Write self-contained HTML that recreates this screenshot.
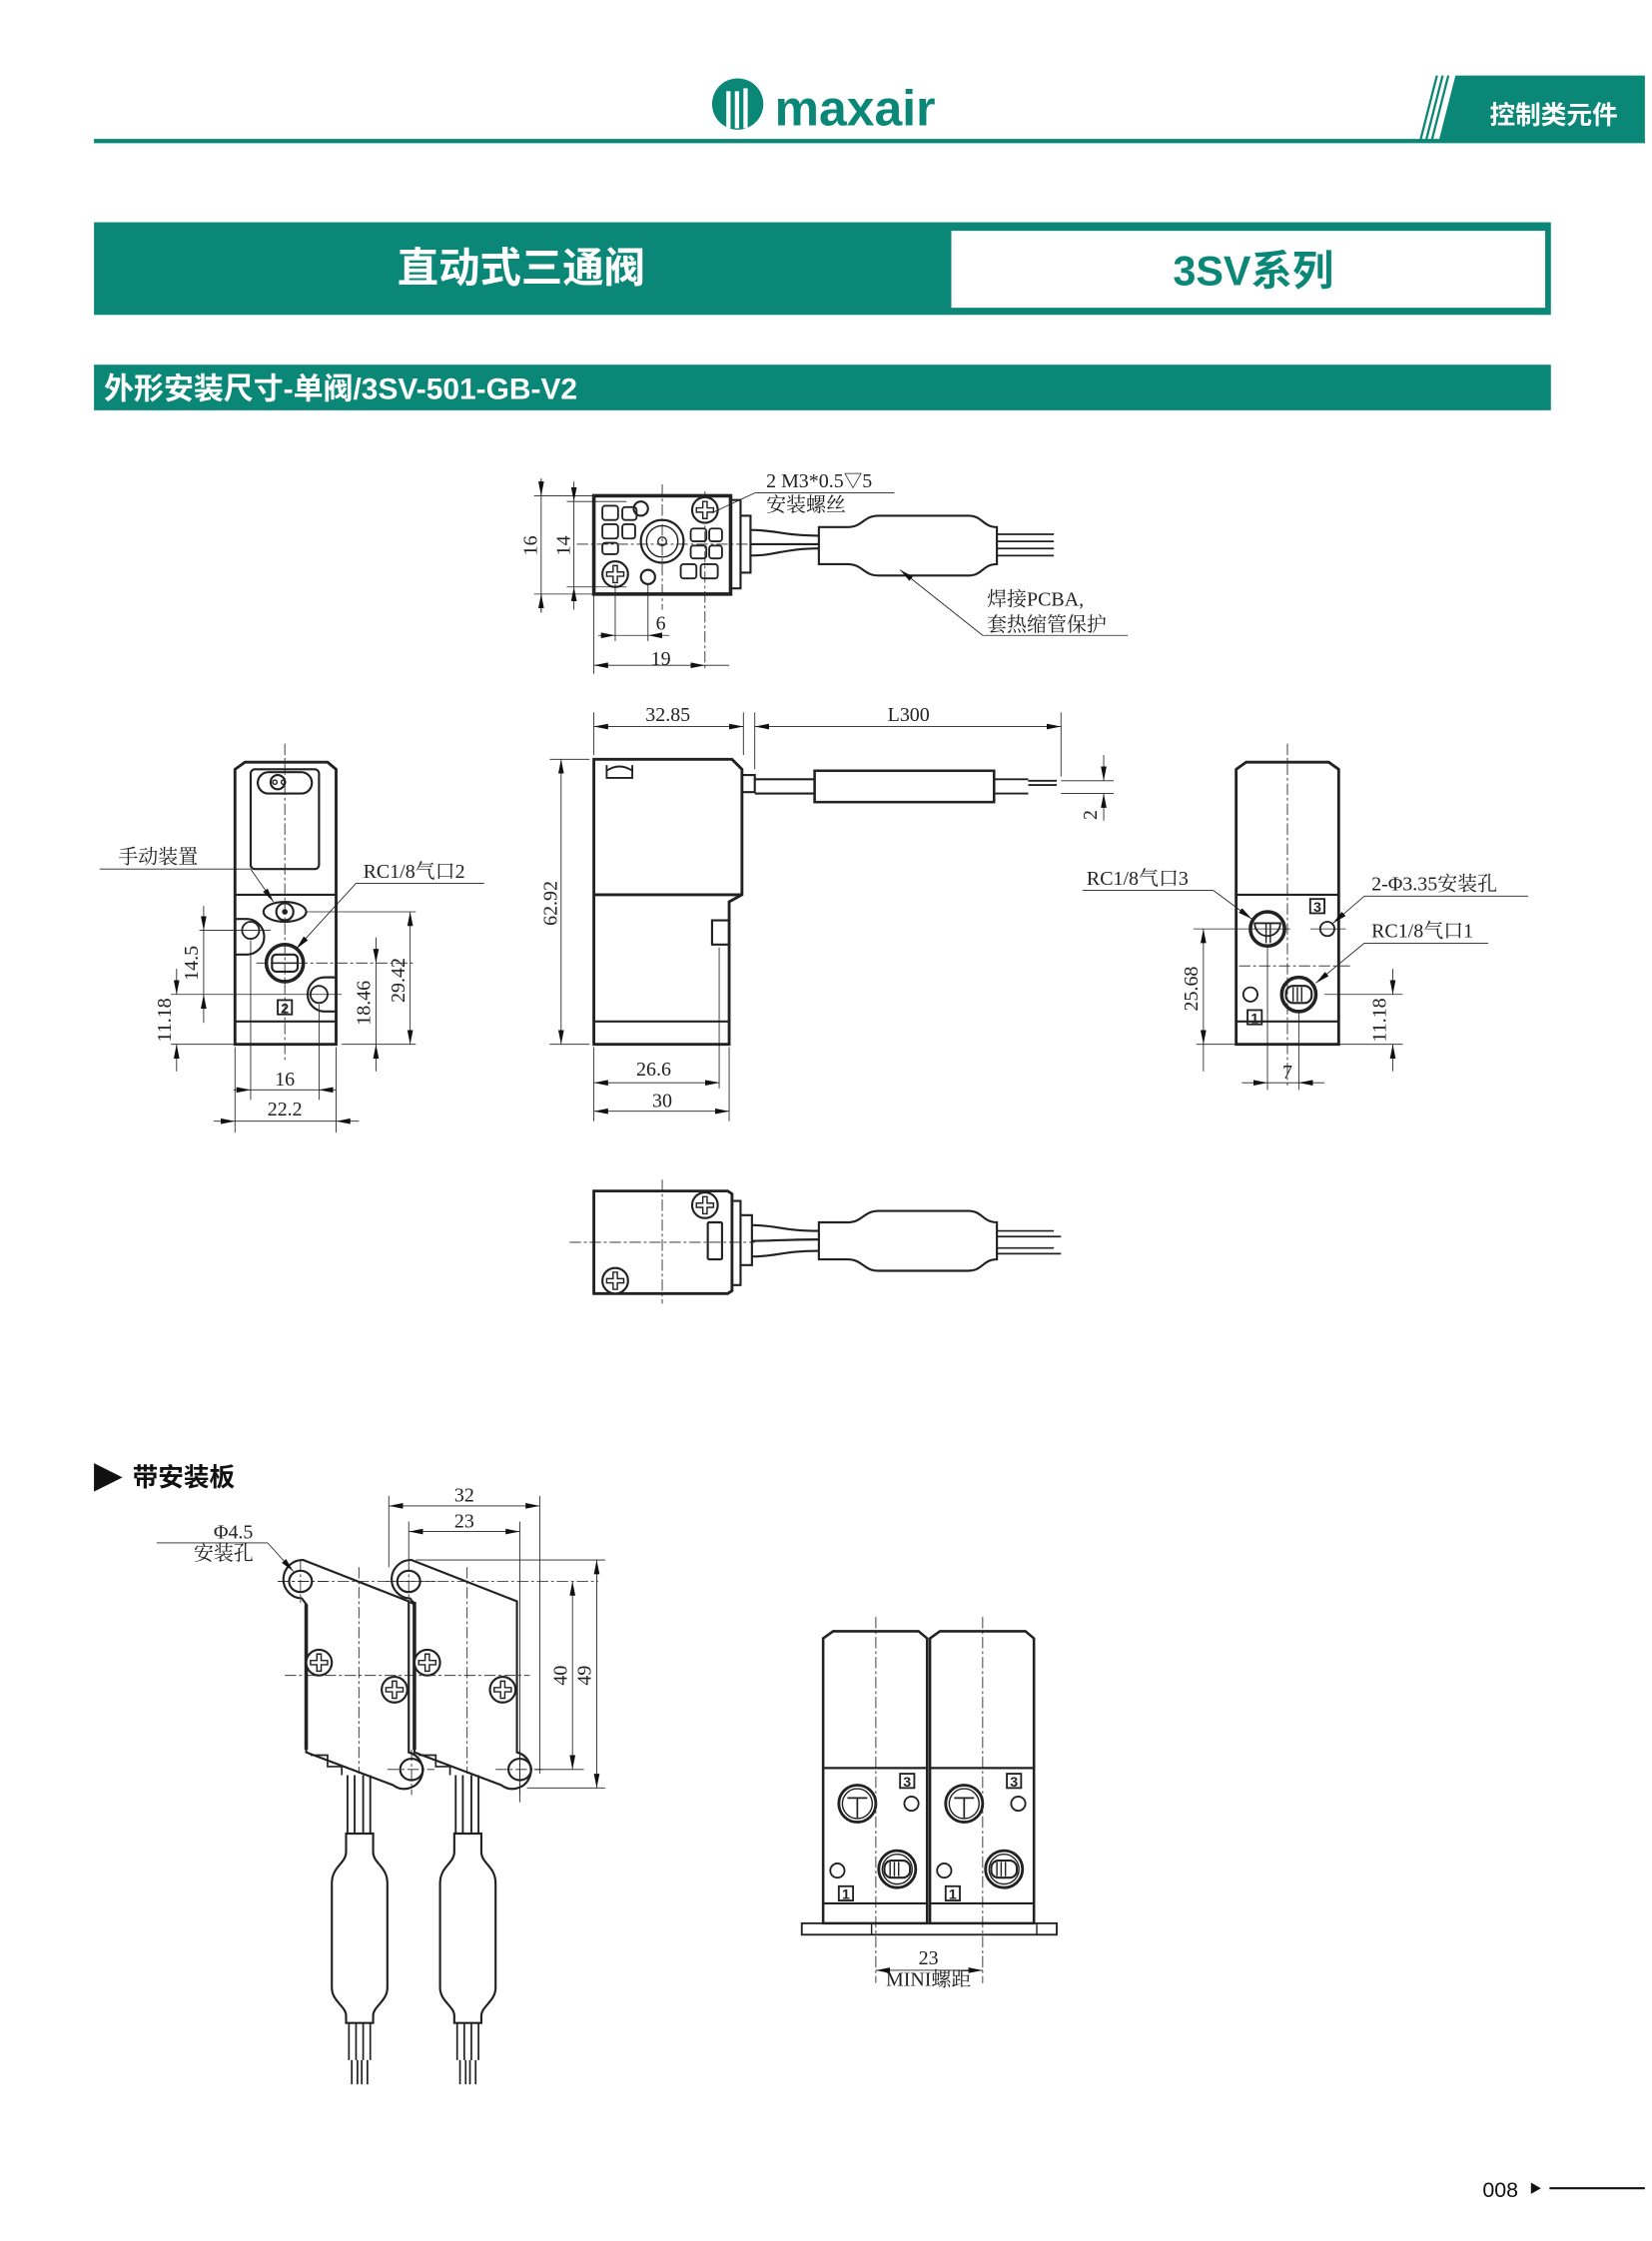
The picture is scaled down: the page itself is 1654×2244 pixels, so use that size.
<!DOCTYPE html>
<html><head><meta charset="utf-8"><style>
html,body{margin:0;padding:0;background:#fff}
svg{display:block}
.cn{font-family:"Liberation Sans","Noto Sans CJK SC",sans-serif}
.d{font-family:"Liberation Serif","Noto Serif CJK SC",serif;font-size:14px;fill:#222}
</style></head><body>
<svg width="1654" height="2244" viewBox="0 0 1160 1573" preserveAspectRatio="none" xmlns="http://www.w3.org/2000/svg">
<defs>
<marker id="a" viewBox="0 0 10 4" refX="10" refY="2" markerWidth="10" markerHeight="4" markerUnits="userSpaceOnUse" orient="auto-start-reverse"><path d="M0,0L10,2L0,4z" fill="#111"/></marker>
<g id="scr"><circle r="9" fill="#fff" stroke="#222" stroke-width="1.5"/><path d="M-1.5,-6h3v4.5h4.5v3h-4.5v4.5h-3v-4.5h-4.5v-3h4.5z" fill="none" stroke="#222" stroke-width="1"/></g>
</defs>
<!-- header -->
<rect x="66" y="97.5" width="1089" height="3" fill="#0b8778"/>
<polygon points="1022,53 1155,53 1155,100 1010,100" fill="#0b8778"/>
<line x1="1017" y1="53" x2="1005" y2="100" stroke="#0b8778" stroke-width="1.6"/>
<line x1="1013" y1="53" x2="1001" y2="100" stroke="#0b8778" stroke-width="1.6"/>
<line x1="1009" y1="53" x2="997" y2="100" stroke="#0b8778" stroke-width="1.6"/>
<text x="1046" y="87" class="cn" font-size="18" font-weight="bold" fill="#fff">控制类元件</text>
<circle cx="518" cy="73" r="18" fill="#0b8778"/>
<rect x="510" y="64" width="3" height="26" fill="#fff"/><rect x="516" y="64" width="3" height="26" fill="#fff"/><rect x="522" y="62" width="3" height="28" fill="#fff"/>
<text x="544" y="88" font-family="Liberation Sans,sans-serif" font-size="35" font-weight="bold" fill="#0b8778">maxair</text>
<!-- title -->
<rect x="66" y="156" width="1023" height="65" fill="#0b8778"/>
<rect x="668" y="162" width="417" height="54" fill="#fff"/>
<text x="366" y="198" text-anchor="middle" class="cn" font-size="29" font-weight="bold" fill="#fff">直动式三通阀</text>
<text x="880" y="200" text-anchor="middle" class="cn" font-size="29" font-weight="bold" fill="#0b8778">3SV系列</text>
<rect x="66" y="256" width="1023" height="32" fill="#0b8778"/>
<text x="73" y="280" class="cn" font-size="21" font-weight="bold" fill="#fff">外形安装尺寸-单阀/3SV-501-GB-V2</text>

<g fill="none" stroke="#222">
<!-- TOP VIEW -->
<rect x="417" y="348" width="96" height="69" stroke-width="2.5"/>
<path d="M513,351H520V413H513M520,362H527V402H520" stroke-width="1.5"/>
<g stroke-width="0.6" stroke-dasharray="8 2 2 2"><line x1="405" y1="382" x2="532" y2="382"/><line x1="465" y1="340" x2="465" y2="428"/><line x1="495" y1="345" x2="495" y2="470"/></g>
<circle cx="465" cy="380" r="15" stroke-width="1.5"/><circle cx="465" cy="380" r="11" stroke-width="1"/><circle cx="465" cy="380" r="3"/>
<circle cx="450" cy="357" r="5" stroke-width="1.5"/><circle cx="455" cy="405" r="5" stroke-width="1.5"/>
<g stroke-width="1.3"><rect x="423" y="355" width="11" height="10" rx="2"/><rect x="437" y="356" width="10" height="9" rx="2"/><rect x="423" y="368" width="11" height="10" rx="2"/><rect x="437" y="368" width="9" height="10" rx="2"/><rect x="423" y="381" width="11" height="8" rx="2"/><rect x="485" y="371" width="11" height="9" rx="2"/><rect x="498" y="371" width="9" height="9" rx="2"/><rect x="485" y="383" width="11" height="9" rx="2"/><rect x="498" y="383" width="9" height="9" rx="2"/><rect x="478" y="396" width="11" height="10" rx="2"/><rect x="492" y="396" width="12" height="10" rx="2"/></g>
<use href="#scr" x="495" y="358"/><use href="#scr" x="432" y="403"/>
<path d="M527,372 C545,372 550,376 575,376 M527,390 C545,390 550,385 575,385 M527,382 H575" stroke-width="1.5"/>
<path d="M575,370H595C606,370 606,362 617,362H680C690,362 690,370 700,370V396C690,396 690,404 680,404H617C606,404 606,396 595,396H575Z" stroke-width="1.5"/>
<path d="M700,375H740M700,380H740M700,385H740M700,390H740" stroke-width="1.2"/>
<g stroke-width="0.6">
<line x1="375" y1="348" x2="417" y2="348"/><line x1="375" y1="417" x2="417" y2="417"/><line x1="380" y1="336" x2="380" y2="430"/>
<line x1="380" y1="336" x2="380" y2="348" marker-end="url(#a)"/><line x1="380" y1="430" x2="380" y2="417" marker-end="url(#a)"/>
<line x1="398" y1="352" x2="440" y2="352"/><line x1="398" y1="412" x2="440" y2="412"/>
<line x1="403" y1="338" x2="403" y2="352" marker-end="url(#a)"/><line x1="403" y1="428" x2="403" y2="412" marker-end="url(#a)"/>
<line x1="403" y1="352" x2="403" y2="412"/>
<line x1="432" y1="410" x2="432" y2="450"/><line x1="455" y1="410" x2="455" y2="450"/><line x1="417" y1="417" x2="417" y2="473"/>
<line x1="432" y1="446" x2="455" y2="446" /><line x1="420" y1="446" x2="432" y2="446" marker-end="url(#a)"/><line x1="470" y1="446" x2="455" y2="446" marker-end="url(#a)"/>
<line x1="417" y1="467" x2="495" y2="467" marker-start="url(#a)" marker-end="url(#a)"/><line x1="495" y1="467" x2="512" y2="467"/>
<line x1="530" y1="346" x2="628" y2="346"/><line x1="530" y1="346" x2="500" y2="360"/>
<line x1="690" y1="446" x2="792" y2="446"/><line x1="690" y1="446" x2="632" y2="400" marker-end="url(#a)"/>
</g>
</g>
<text class="d" x="538" y="342">2 M3*0.5<tspan font-size="13">▽</tspan>5</text>
<text class="d" x="538" y="359">安装螺丝</text>
<text class="d" x="693" y="425">焊接PCBA,</text>
<text class="d" x="693" y="443">套热缩管保护</text>
<text class="d" transform="translate(377,383) rotate(-90)" text-anchor="middle">16</text>
<text class="d" transform="translate(400,383) rotate(-90)" text-anchor="middle">14</text>
<text class="d" x="464" y="442" text-anchor="middle">6</text>
<text class="d" x="464" y="467" text-anchor="middle">19</text>

<g fill="none" stroke="#222">
<!-- FRONT VIEW -->
<path d="M417,533H514L521,540V628L512,633V733H417Z" stroke-width="2"/>
<line x1="417" y1="628" x2="521" y2="628" stroke-width="2"/>
<line x1="417" y1="717" x2="512" y2="717" stroke-width="1.5"/>
<rect x="500" y="646" width="12" height="17" stroke-width="1.5"/>
<path d="M521,544H530V556H521" stroke-width="1.5"/>
<path d="M426,537V546H444V537M426,541C432,537 438,537 444,541" stroke-width="1.3"/>
<line x1="530" y1="547" x2="572" y2="547" stroke-width="1.5"/><line x1="530" y1="557" x2="572" y2="557" stroke-width="1.5"/>
<rect x="572" y="541" width="126" height="22" stroke-width="1.8"/>
<path d="M698,547H722M698,557H722M722,548H742M722,551H742" stroke-width="1.3"/>
<g stroke-width="0.6">
<line x1="417" y1="500" x2="417" y2="530"/><line x1="522" y1="500" x2="522" y2="530"/><line x1="530" y1="500" x2="530" y2="540"/><line x1="745" y1="500" x2="745" y2="545"/>
<line x1="417" y1="510" x2="522" y2="510" marker-start="url(#a)" marker-end="url(#a)"/>
<line x1="530" y1="510" x2="745" y2="510" marker-start="url(#a)" marker-end="url(#a)"/>
<line x1="386" y1="533" x2="414" y2="533"/><line x1="386" y1="733" x2="414" y2="733"/>
<line x1="394" y1="533" x2="394" y2="733" marker-start="url(#a)" marker-end="url(#a)"/>
<line x1="417" y1="735" x2="417" y2="787"/><line x1="512" y1="735" x2="512" y2="787"/><line x1="505" y1="665" x2="505" y2="764"/>
<line x1="417" y1="760" x2="505" y2="760" marker-start="url(#a)" marker-end="url(#a)"/>
<line x1="417" y1="780" x2="512" y2="780" marker-start="url(#a)" marker-end="url(#a)"/>
<line x1="745" y1="548" x2="782" y2="548"/><line x1="745" y1="557" x2="782" y2="557"/>
<line x1="775" y1="530" x2="775" y2="548" marker-end="url(#a)"/><line x1="775" y1="576" x2="775" y2="557" marker-end="url(#a)"/>
</g>
</g>
<text class="d" x="469" y="506" text-anchor="middle">32.85</text>
<text class="d" x="638" y="506" text-anchor="middle">L300</text>
<text class="d" transform="translate(391,634) rotate(-90)" text-anchor="middle">62.92</text>
<text class="d" x="459" y="755" text-anchor="middle">26.6</text>
<text class="d" x="465" y="777" text-anchor="middle">30</text>
<text class="d" transform="translate(770,572) rotate(-90)" text-anchor="middle">2</text>

<g fill="none" stroke="#222">
<!-- LEFT SIDE VIEW -->
<path d="M165,540L172,535H230L236,540V733H165Z" stroke-width="2"/>
<line x1="165" y1="628" x2="236" y2="628" stroke-width="1.5"/>
<line x1="165" y1="717" x2="236" y2="717" stroke-width="1.5"/>
<rect x="176" y="540" width="48" height="70" rx="3" stroke-width="1.5"/>
<rect x="181" y="542" width="38" height="15" rx="7.5" stroke-width="1.5"/>
<circle cx="195" cy="549" r="5" stroke-width="1.5"/><circle cx="199" cy="549" r="1.5"/><circle cx="193" cy="549" r="1.5"/>
<line x1="200" y1="522" x2="200" y2="745" stroke-width="0.6" stroke-dasharray="8 2 2 2"/>
<ellipse cx="200" cy="640" rx="15" ry="7" stroke-width="1.5"/><circle cx="200" cy="640" r="6" stroke-width="1.5"/><circle cx="200" cy="640" r="1.5" fill="#222"/>
<path d="M165,645H173A10,10 0 0 1 173,670H165" stroke-width="1.5"/><circle cx="176" cy="653" r="6" stroke-width="1.3"/>
<path d="M236,686H228A10,10 0 0 0 228,710H236" stroke-width="1.5"/><circle cx="224" cy="698" r="6" stroke-width="1.3"/>
<circle cx="200" cy="676" r="13" stroke-width="2.5"/><rect x="191" y="670" width="18" height="12" rx="3" stroke-width="1.5"/><line x1="191" y1="676" x2="209" y2="676" stroke-width="1"/>
<rect x="195" y="702" width="10" height="10" stroke-width="1.3"/>
<g stroke-width="0.6">
<line x1="180" y1="676" x2="290" y2="676" stroke-dasharray="8 2 2 2"/><line x1="215" y1="640" x2="292" y2="640"/><line x1="140" y1="653" x2="190" y2="653"/><line x1="120" y1="698" x2="240" y2="698"/>
<line x1="120" y1="733" x2="165" y2="733"/><line x1="240" y1="733" x2="292" y2="733"/>
<line x1="143" y1="636" x2="143" y2="653" marker-end="url(#a)"/><line x1="143" y1="718" x2="143" y2="698" marker-end="url(#a)"/><line x1="143" y1="653" x2="143" y2="698"/>
<line x1="124" y1="680" x2="124" y2="698" marker-end="url(#a)"/><line x1="124" y1="752" x2="124" y2="733" marker-end="url(#a)"/>
<line x1="264" y1="658" x2="264" y2="676" marker-end="url(#a)"/><line x1="264" y1="752" x2="264" y2="733" marker-end="url(#a)"/><line x1="264" y1="676" x2="264" y2="733"/>
<line x1="288" y1="640" x2="288" y2="733" marker-start="url(#a)" marker-end="url(#a)"/>
<line x1="165" y1="735" x2="165" y2="795"/><line x1="236" y1="735" x2="236" y2="795"/><line x1="176" y1="660" x2="176" y2="772"/><line x1="224" y1="705" x2="224" y2="772"/>
<line x1="164" y1="765" x2="176" y2="765" marker-end="url(#a)"/><line x1="236" y1="765" x2="224" y2="765" marker-end="url(#a)"/><line x1="176" y1="765" x2="224" y2="765"/>
<line x1="150" y1="787" x2="165" y2="787" marker-end="url(#a)"/><line x1="252" y1="787" x2="236" y2="787" marker-end="url(#a)"/><line x1="165" y1="787" x2="236" y2="787"/>
<line x1="70" y1="610" x2="176" y2="610"/><line x1="176" y1="610" x2="192" y2="633" marker-end="url(#a)"/>
<line x1="250" y1="620" x2="340" y2="620"/><line x1="250" y1="620" x2="208" y2="666" marker-end="url(#a)"/>
</g>
</g>
<text x="200" y="711" text-anchor="middle" font-family="Liberation Sans,sans-serif" font-size="10" font-weight="bold" fill="#222">2</text>
<text class="d" x="83" y="606">手动装置</text>
<text class="d" x="255" y="616">RC1/8气口2</text>
<text class="d" transform="translate(139,676) rotate(-90)" text-anchor="middle">14.5</text>
<text class="d" transform="translate(120,716) rotate(-90)" text-anchor="middle">11.18</text>
<text class="d" transform="translate(260,704) rotate(-90)" text-anchor="middle">18.46</text>
<text class="d" transform="translate(284,688) rotate(-90)" text-anchor="middle">29.42</text>
<text class="d" x="200" y="762" text-anchor="middle">16</text>
<text class="d" x="200" y="783" text-anchor="middle">22.2</text>

<g fill="none" stroke="#222">
<!-- RIGHT SIDE VIEW -->
<path d="M868,540L875,535H933L940,540V733H868Z" stroke-width="2"/>
<line x1="868" y1="628" x2="940" y2="628" stroke-width="1.5"/>
<line x1="868" y1="717" x2="940" y2="717" stroke-width="1.5"/>
<line x1="904" y1="522" x2="904" y2="762" stroke-width="0.6" stroke-dasharray="8 2 2 2"/>
<circle cx="890" cy="652" r="12" stroke-width="2.5"/><path d="M881,648H899A9,9 0 0 1 881,648Z" stroke-width="1.3"/><line x1="889" y1="648" x2="889" y2="662" stroke-width="1"/><line x1="892" y1="648" x2="892" y2="662" stroke-width="1"/>
<rect x="920" y="631" width="10" height="10" stroke-width="1.3"/>
<circle cx="932" cy="652" r="5" stroke-width="1.3"/>
<circle cx="912" cy="698" r="12" stroke-width="2.5"/><rect x="903" y="692" width="18" height="12" rx="5" stroke-width="1.5"/><path d="M908,693V703M911,693V703M914,693V703" stroke-width="1"/>
<circle cx="878" cy="698" r="5" stroke-width="1.3"/>
<rect x="876" y="709" width="10" height="10" stroke-width="1.3"/>
<g stroke-width="0.6">
<line x1="838" y1="652" x2="906" y2="652"/><line x1="920" y1="652" x2="945" y2="652"/><line x1="870" y1="678" x2="950" y2="678" stroke-dasharray="8 2 2 2"/>
<line x1="840" y1="733" x2="868" y2="733"/><line x1="940" y1="733" x2="985" y2="733"/><line x1="930" y1="698" x2="985" y2="698"/>
<line x1="845" y1="652" x2="845" y2="733" marker-start="url(#a)" marker-end="url(#a)"/><line x1="845" y1="733" x2="845" y2="752"/>
<line x1="978" y1="680" x2="978" y2="698" marker-end="url(#a)"/><line x1="978" y1="752" x2="978" y2="733" marker-end="url(#a)"/>
<line x1="890" y1="665" x2="890" y2="765"/><line x1="912" y1="711" x2="912" y2="765"/>
<line x1="872" y1="760" x2="890" y2="760" marker-end="url(#a)"/><line x1="930" y1="760" x2="912" y2="760" marker-end="url(#a)"/><line x1="890" y1="760" x2="912" y2="760"/>
<line x1="760" y1="625" x2="852" y2="625"/><line x1="852" y1="625" x2="879" y2="645" marker-end="url(#a)"/>
<line x1="958" y1="629" x2="1073" y2="629"/><line x1="958" y1="629" x2="936" y2="648" marker-end="url(#a)"/>
<line x1="958" y1="662" x2="1045" y2="662"/><line x1="958" y1="662" x2="924" y2="690" marker-end="url(#a)"/>
</g>
</g>
<text x="925" y="640" text-anchor="middle" font-family="Liberation Sans,sans-serif" font-size="10" font-weight="bold" fill="#222">3</text>
<text x="881" y="718" text-anchor="middle" font-family="Liberation Sans,sans-serif" font-size="10" font-weight="bold" fill="#222">1</text>
<text class="d" x="763" y="621">RC1/8气口3</text>
<text class="d" x="963" y="625">2-Φ3.35安装孔</text>
<text class="d" x="963" y="658">RC1/8气口1</text>
<text class="d" transform="translate(841,694) rotate(-90)" text-anchor="middle">25.68</text>
<text class="d" transform="translate(973,716) rotate(-90)" text-anchor="middle">11.18</text>
<text class="d" x="904" y="757" text-anchor="middle">7</text>

<g fill="none" stroke="#222">
<!-- BOTTOM VIEW -->
<path d="M417,836H511L514,838V906L511,908H417Z" stroke-width="2"/>
<path d="M514,843H520V902H514M520,853H528V888H520" stroke-width="1.5"/>
<g stroke-width="0.6" stroke-dasharray="8 2 2 2"><line x1="465" y1="828" x2="465" y2="915"/><line x1="400" y1="872" x2="530" y2="872"/></g>
<use href="#scr" x="495" y="846"/><use href="#scr" x="432" y="899"/>
<rect x="497" y="858" width="10" height="26" rx="1" stroke-width="1.5"/>
<path d="M528,860 C545,860 550,864 575,864 M528,882 C545,882 550,878 575,878 M528,871 C545,871 550,870 575,870" stroke-width="1.5"/>
<path d="M575,858H595C606,858 606,850 617,850H680C690,850 690,858 700,858V884C690,884 690,892 680,892H617C606,892 606,884 595,884H575Z" stroke-width="1.5"/>
<path d="M700,864H740M700,868H745M700,876H740M700,880H745" stroke-width="1.2"/>
</g>

<!-- SECTION 2 -->
<polygon points="66,1027 86,1037 66,1047" fill="#111"/>
<text x="93" y="1043" class="cn" font-size="18" font-weight="bold" fill="#111">带安装板</text>

<g fill="none" stroke="#222">
<!-- plates -->
<g id="pl">
<path d="M213,1095L287,1124V1230A13,13 0 1 1 276,1253L215,1230V1126L212,1122A13,13 0 1 1 213,1095Z" fill="#fff" stroke-width="1.5"/>
<line x1="215" y1="1126" x2="215" y2="1228" stroke-width="2.5"/>
<ellipse cx="211" cy="1110" rx="8" ry="7.5" stroke-width="1.5"/>
<ellipse cx="289" cy="1242" rx="8" ry="7.5" stroke-width="1.5"/>
<use href="#scr" x="224" y="1167"/><use href="#scr" x="277" y="1186"/>
<g stroke-width="0.6" stroke-dasharray="8 2 2 2"><line x1="252" y1="1100" x2="252" y2="1245"/><line x1="195" y1="1110" x2="230" y2="1110"/><line x1="272" y1="1242" x2="305" y2="1242"/><line x1="289" y1="1228" x2="289" y2="1260"/><line x1="211" y1="1095" x2="211" y2="1125"/></g>
<path d="M218,1232H230V1240H240V1246" stroke-width="1.2"/>
<path d="M244,1246V1287M249,1246V1287M255,1246V1287M260,1246V1287" stroke-width="1.3"/>
<path d="M243,1287H262V1300C262,1308 272,1310 272,1322V1395C272,1405 262,1408 262,1415V1420H243V1415C243,1408 233,1405 233,1395V1322C233,1310 243,1308 243,1300Z" fill="#fff" stroke-width="1.5"/>
<path d="M245,1420V1446M250,1420V1446M255,1420V1446M260,1420V1446M247,1446V1463M251,1446V1463M254,1446V1463M258,1446V1463" stroke-width="1.2"/>
</g>
<use href="#pl" x="76" y="0"/>
<line x1="212" y1="1095" x2="212" y2="1095" stroke-width="0"/>
<line x1="288" y1="1124" x2="292" y2="1126" stroke-width="2.5"/>
<g stroke-width="0.6">
<line x1="195" y1="1110" x2="420" y2="1110" stroke-dasharray="8 2 2 2"/>
<line x1="200" y1="1176" x2="372" y2="1176" stroke-dasharray="8 2 2 2"/>
<line x1="273" y1="1050" x2="273" y2="1100"/><line x1="287" y1="1068" x2="287" y2="1095"/><line x1="379" y1="1050" x2="379" y2="1245"/><line x1="365" y1="1068" x2="365" y2="1265"/>
<line x1="273" y1="1057" x2="379" y2="1057" marker-start="url(#a)" marker-end="url(#a)"/>
<line x1="287" y1="1075" x2="365" y2="1075" marker-start="url(#a)" marker-end="url(#a)"/>
<line x1="292" y1="1095" x2="425" y2="1095"/><line x1="370" y1="1255" x2="425" y2="1255"/><line x1="375" y1="1242" x2="410" y2="1242"/>
<line x1="402" y1="1110" x2="402" y2="1242" marker-start="url(#a)" marker-end="url(#a)"/>
<line x1="419" y1="1095" x2="419" y2="1255" marker-start="url(#a)" marker-end="url(#a)"/>
<line x1="110" y1="1083" x2="188" y2="1083"/><line x1="188" y1="1083" x2="206" y2="1103" marker-end="url(#a)"/>
</g>
</g>
<text class="d" x="326" y="1054" text-anchor="middle" font-size="11">32</text>
<text class="d" x="326" y="1072" text-anchor="middle" font-size="11">23</text>
<text class="d" transform="translate(398,1176) rotate(-90)" text-anchor="middle" font-size="11">40</text>
<text class="d" transform="translate(415,1176) rotate(-90)" text-anchor="middle" font-size="11">49</text>
<text class="d" x="150" y="1080" font-size="12">Φ4.5</text>
<text class="d" x="136" y="1095" font-size="12">安装孔</text>

<g fill="none" stroke="#222">
<!-- two valves front -->
<g id="v2">
<path d="M578,1150L585,1145H645L651,1150V1350H578Z" fill="#fff" stroke-width="1.8"/>
<line x1="578" y1="1241" x2="651" y2="1241" stroke-width="1.5"/>
<line x1="578" y1="1336" x2="651" y2="1336" stroke-width="1.5"/>
<circle cx="602" cy="1266" r="13" stroke-width="2"/><circle cx="602" cy="1266" r="10.5" stroke-width="1"/>
<path d="M595,1262H609M602,1262V1276" stroke-width="1.2"/>
<rect x="632" y="1245" width="10" height="10" stroke-width="1.3"/>
<circle cx="640" cy="1266" r="5" stroke-width="1.3"/>
<circle cx="630" cy="1312" r="13" stroke-width="2"/><circle cx="630" cy="1312" r="10.5" stroke-width="1"/>
<rect x="621" y="1306" width="18" height="12" rx="5" stroke-width="1.5"/><path d="M625,1307V1317M628,1307V1317M631,1307V1317" stroke-width="1"/>
<circle cx="588" cy="1313" r="5" stroke-width="1.3"/>
<rect x="589" y="1324" width="10" height="10" stroke-width="1.3"/>
</g>
<use href="#v2" x="75" y="0"/>
<rect x="563" y="1350" width="179" height="8" stroke-width="1.3"/>
<line x1="612" y1="1350" x2="612" y2="1358" stroke-width="1"/><line x1="728" y1="1350" x2="728" y2="1358" stroke-width="1"/>
<g stroke-width="0.6" stroke-dasharray="8 2 2 2"><line x1="615" y1="1135" x2="615" y2="1392"/><line x1="690" y1="1135" x2="690" y2="1392"/></g>
<line x1="615" y1="1383" x2="690" y2="1383" stroke-width="0.6" marker-start="url(#a)" marker-end="url(#a)"/>
</g>
<text x="637" y="1254" text-anchor="middle" font-family="Liberation Sans,sans-serif" font-size="10" font-weight="bold" fill="#222">3</text>
<text x="712" y="1254" text-anchor="middle" font-family="Liberation Sans,sans-serif" font-size="10" font-weight="bold" fill="#222">3</text>
<text x="594" y="1333" text-anchor="middle" font-family="Liberation Sans,sans-serif" font-size="10" font-weight="bold" fill="#222">1</text>
<text x="669" y="1333" text-anchor="middle" font-family="Liberation Sans,sans-serif" font-size="10" font-weight="bold" fill="#222">1</text>
<text class="d" x="652" y="1379" text-anchor="middle" font-size="11">23</text>
<text class="d" x="652" y="1394" text-anchor="middle" font-size="11">MINI螺距</text>

<!-- footer -->
<text x="1041" y="1542" font-family="Liberation Sans,sans-serif" font-size="15" fill="#111">008</text>
<polygon points="1075,1532 1082,1536 1075,1540" fill="#111"/>
<line x1="1088" y1="1536" x2="1155" y2="1536" stroke="#111" stroke-width="1.5"/>
</svg>
</body></html>
